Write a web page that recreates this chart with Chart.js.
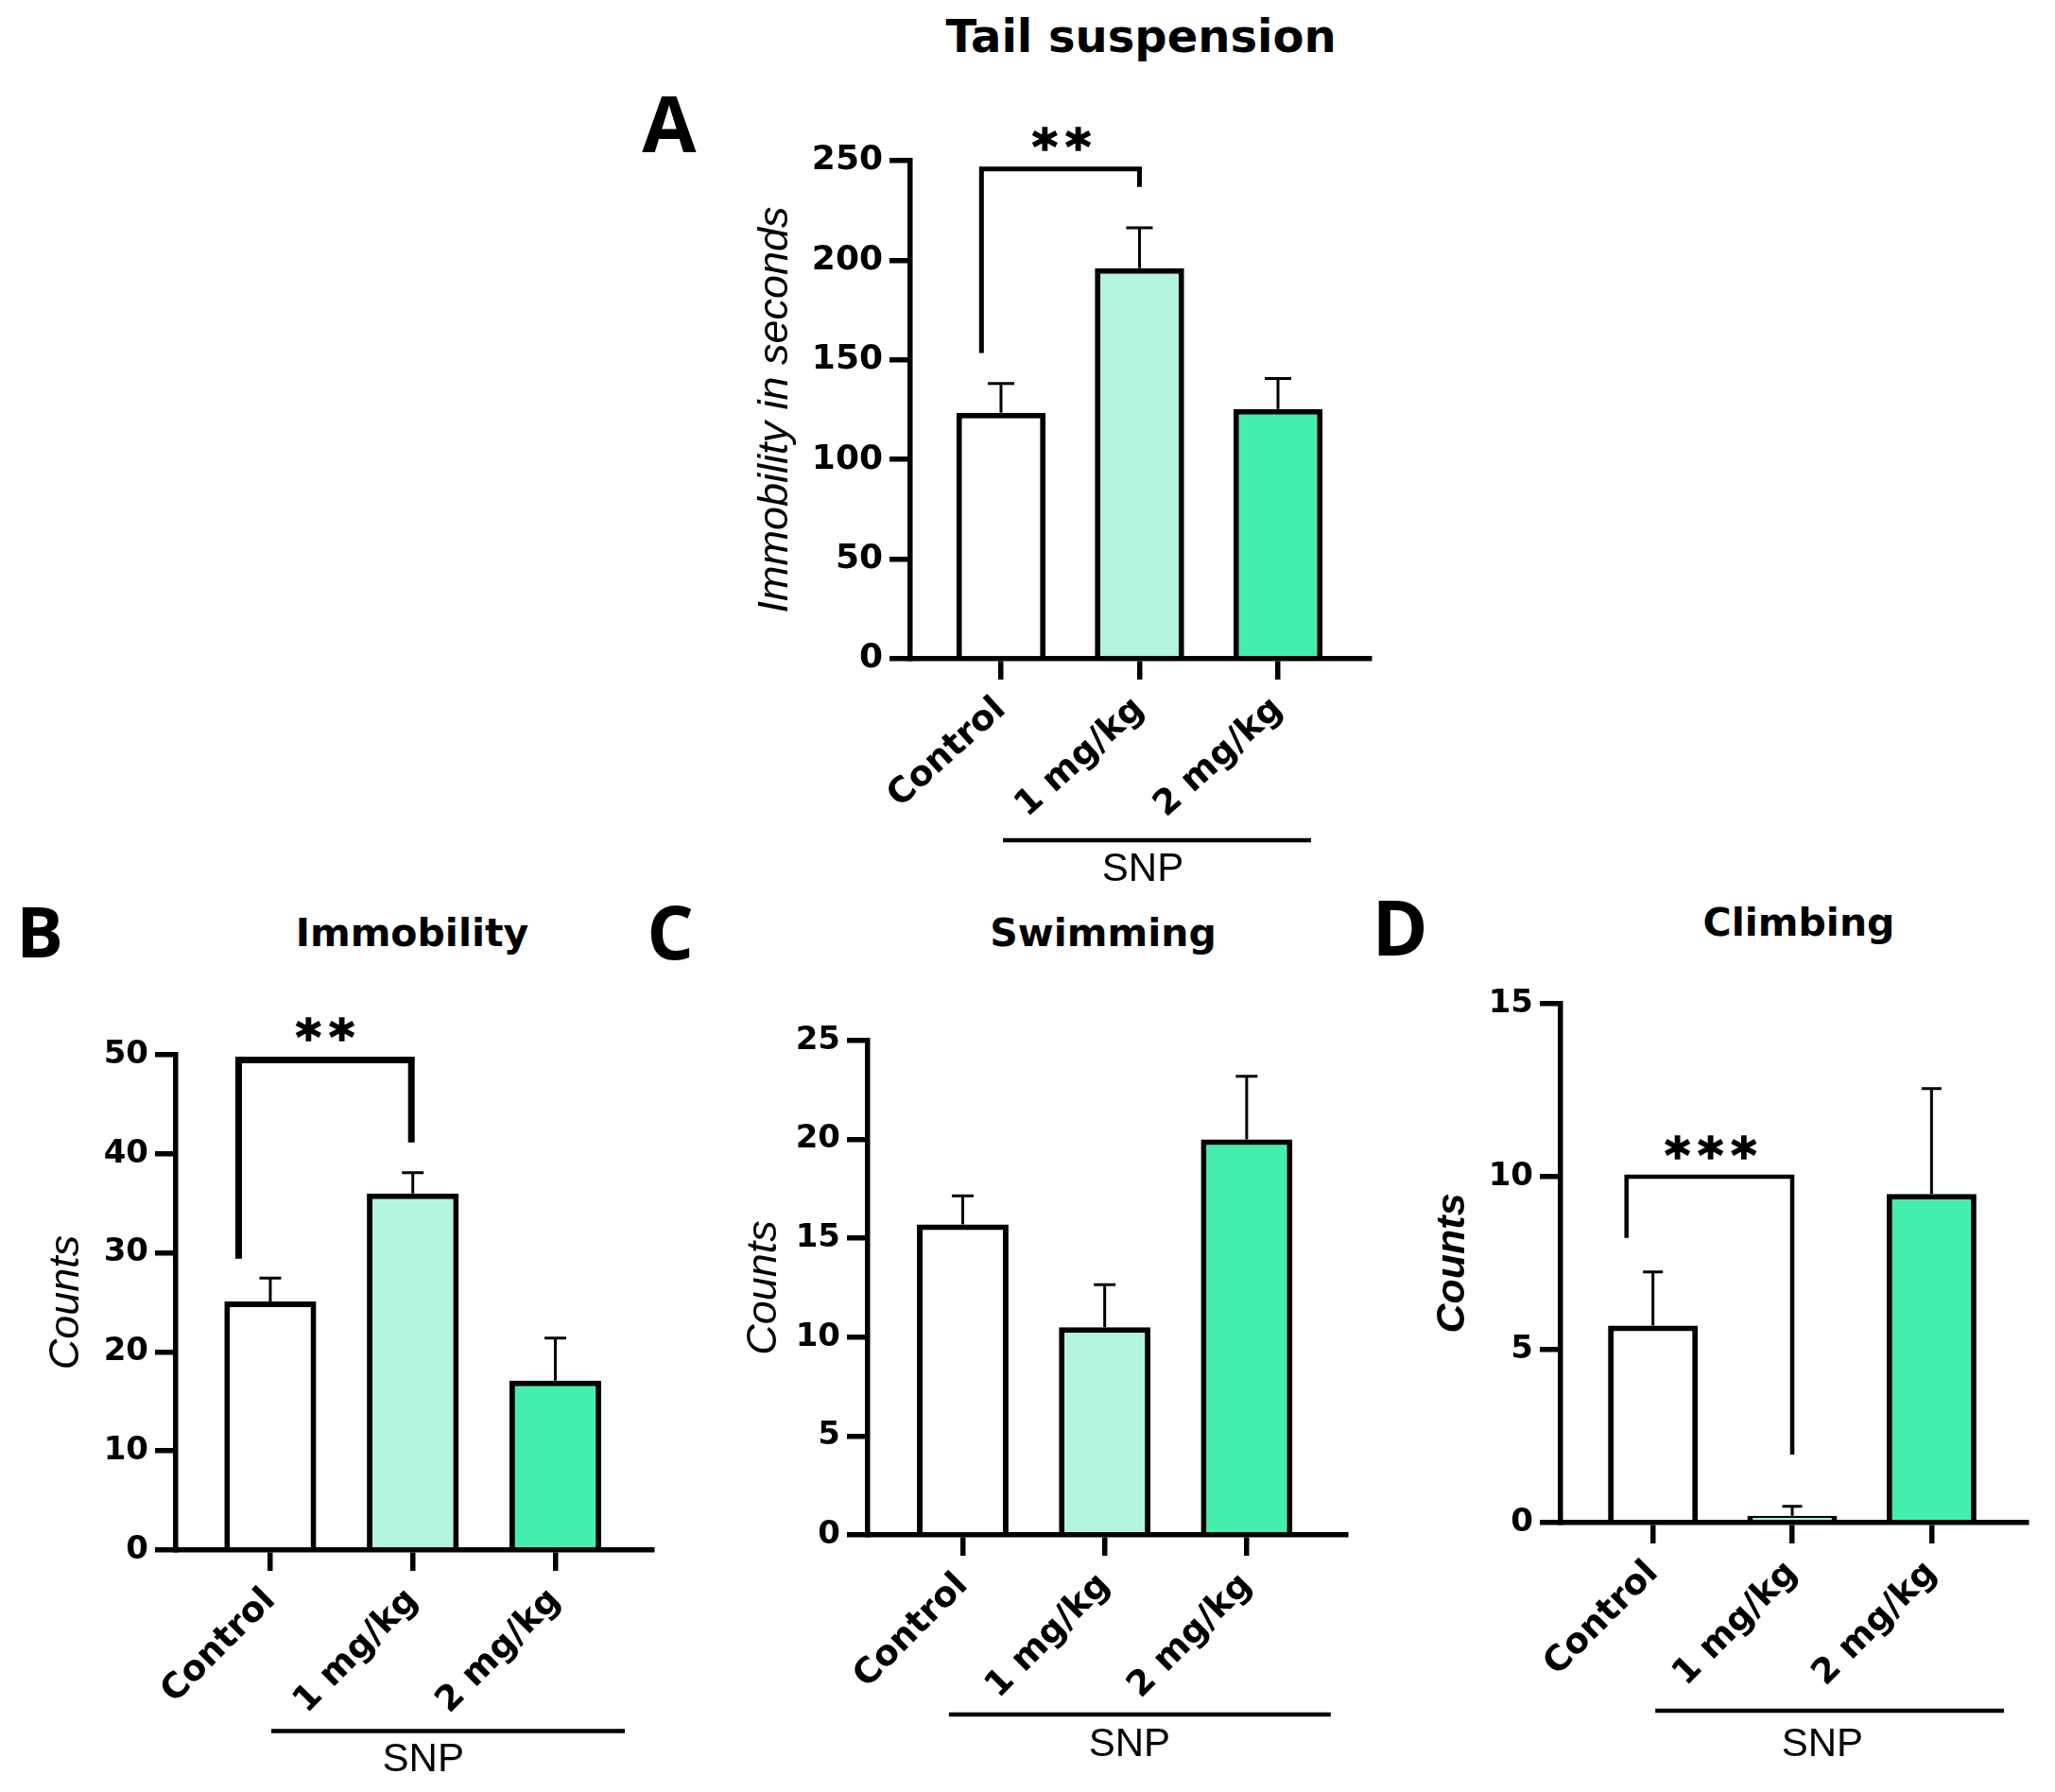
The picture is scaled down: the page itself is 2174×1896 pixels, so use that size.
<!DOCTYPE html>
<html><head><meta charset="utf-8">
<script src="https://cdn.jsdelivr.net/npm/chart.js@4.4.0/dist/chart.umd.min.js"></script>
<style>
html,body{margin:0;padding:0;background:#fff;width:2174px;height:1896px;overflow:hidden;position:relative}
canvas{position:absolute}
.t{position:absolute;white-space:nowrap;transform:translateX(-50%);line-height:1;color:#000}
.title{font-family:"DejaVu Sans",sans-serif;font-weight:bold}
.letter{font-family:"Open Sans",sans-serif;font-weight:bold}
</style></head><body>
<div class="t title" style="left:1207px;top:14px;font-size:48px">Tail suspension</div>
<div class="t title" style="left:436px;top:967px;font-size:41px">Immobility</div>
<div class="t title" style="left:1167px;top:967px;font-size:41px">Swimming</div>
<div class="t title" style="left:1903px;top:956px;font-size:41px">Climbing</div>
<div class="t letter" style="left:708px;top:87px;font-size:83px">A</div>
<div class="t letter" style="left:42px;top:948px;font-size:74px">B</div>
<div class="t letter" style="left:709px;top:946px;font-size:78px">C</div>
<div class="t letter" style="left:1481px;top:940px;font-size:80px">D</div>
<script>
const categories = ['Control', '1 mg/kg', '2 mg/kg'];
const groupLabel = 'SNP';
const barColors = ['#ffffff', '#b3f5dc', '#44efae'];

const tailMeans = [123.4, 196.0, 125.3];
const tailSem = [14.8, 20.3, 15.3];
const tailTicks = [0, 50, 100, 150, 200, 250];

const immobMeans = [25.1, 36.0, 17.1];
const immobSem = [2.35, 2.1, 4.3];
const immobTicks = [0, 10, 20, 30, 40, 50];

const swimMeans = [15.7, 10.5, 20.0];
const swimSem = [1.45, 2.15, 3.2];
const swimTicks = [0, 5, 10, 15, 20, 25];

const climbMeans = [5.7, 0.2, 9.5];
const climbSem = [1.55, 0.27, 3.05];
const climbTicks = [0, 5, 10, 15];

const padL = 175, padR = 30, padT = 70;

const panels = [
  {means: tailMeans, sem: tailSem, ticks: tailTicks, yTitle: 'Immobility in seconds',
   tFont: {family: 'Liberation Sans', style: 'italic', weight: 'normal', size: 45, lineHeight: 1}, titlePad: 9.5,
   axisL: 963, axisR: 1449, yTop: 170, yBot: 697, xMin: -0.655, xMax: 2.662, rot: 42, padB: 260, tickFont: 36,
   sig: {from: -0.141, to: 1, top: 245.9, fromEnd: 153.5, toEnd: 236.8, w: 5, text: '**', sx: 0.437, sy: 262.5},
   snp: {from: 0.014, to: 2.239, lineDy: 192, textX: 1.024, textDy: 223.5}, capW: 28},
  {means: immobMeans, sem: immobSem, ticks: immobTicks, yTitle: 'Counts',
   tFont: {family: 'Liberation Sans', style: 'italic', weight: 'normal', size: 45, lineHeight: 1}, titlePad: 36.5,
   axisL: 186, axisR: 690, yTop: 1116, yBot: 1640, xMin: -0.663, xMax: 2.68, rot: 45, padB: 250, tickFont: 34,
   sig: {from: -0.222, to: 0.99, top: 49.47, fromEnd: 29.42, toEnd: 41.16, w: 7, text: '**', sx: 0.385, sy: 52.9},
   snp: {from: 0.007, to: 2.488, lineDy: 191.6, textX: 1.073, textDy: 222}, capW: 23},
  {means: swimMeans, sem: swimSem, ticks: swimTicks, yTitle: 'Counts',
   tFont: {family: 'Liberation Sans', style: 'italic', weight: 'normal', size: 45, lineHeight: 1}, titlePad: 42.5,
   axisL: 918, axisR: 1424, yTop: 1101, yBot: 1624, xMin: -0.669, xMax: 2.70, rot: 45, padB: 250, tickFont: 34,
   sig: null,
   snp: {from: -0.097, to: 2.592, lineDy: 190, textX: 1.175, textDy: 222}, capW: 23},
  {means: climbMeans, sem: climbSem, ticks: climbTicks, yTitle: 'Counts',
   tFont: {family: 'Liberation Sans', style: 'italic', weight: 'bold', size: 43, lineHeight: 1}, titlePad: 39.5,
   axisL: 1651, axisR: 2144, yTop: 1062, yBot: 1611, xMin: -0.663, xMax: 2.683, rot: 45, padB: 250, tickFont: 34,
   sig: {from: -0.19, to: 1.0, top: 10, fromEnd: 8.23, toEnd: 1.97, w: 4.5, text: '***', sx: 0.414, sy: 10.93},
   snp: {from: 0.017, to: 2.52, lineDy: 199, textX: 1.216, textDy: 235}, capW: 21}
];

const extras = {
  id: 'extras',
  afterDatasetsDraw(chart, args, opts) {
    const p = opts.panel;
    const {ctx} = chart;
    const x = chart.scales.x, y = chart.scales.y;
    ctx.save();
    ctx.strokeStyle = '#000';
    ctx.lineWidth = 3;
    ctx.lineCap = 'butt';
    p.means.forEach((m, i) => {
      const px = x.getPixelForValue(i);
      const y0 = y.getPixelForValue(m);
      const y1 = y.getPixelForValue(m + p.sem[i]);
      ctx.beginPath();
      ctx.moveTo(px, y0); ctx.lineTo(px, y1);
      ctx.moveTo(px - p.capW / 2, y1); ctx.lineTo(px + p.capW / 2, y1);
      ctx.stroke();
    });
    ctx.restore();
  },
  afterDraw(chart, args, opts) {
    const p = opts.panel;
    const {ctx} = chart;
    const x = chart.scales.x, y = chart.scales.y;
    ctx.save();
    ctx.strokeStyle = '#000';
    ctx.fillStyle = '#000';
    if (p.sig) {
      const s = p.sig;
      ctx.lineWidth = s.w;
      ctx.lineJoin = 'miter';
      ctx.beginPath();
      ctx.moveTo(x.getPixelForValue(s.from), y.getPixelForValue(s.fromEnd));
      ctx.lineTo(x.getPixelForValue(s.from), y.getPixelForValue(s.top));
      ctx.lineTo(x.getPixelForValue(s.to), y.getPixelForValue(s.top));
      ctx.lineTo(x.getPixelForValue(s.to), y.getPixelForValue(s.toEnd));
      ctx.stroke();
      const fs = 52, sp = 8;
      ctx.font = 'bold ' + fs + 'px "DejaVu Sans"';
      ctx.letterSpacing = sp + 'px';
      ctx.textAlign = 'center';
      ctx.textBaseline = 'alphabetic';
      ctx.lineWidth = 1.5;
      const tx = x.getPixelForValue(s.sx) + sp / 2, ty = y.getPixelForValue(s.sy) + 0.56 * fs;
      ctx.fillText(s.text, tx, ty);
      ctx.strokeText(s.text, tx, ty);
      ctx.letterSpacing = '0px';
    }
    const bottom = chart.chartArea.bottom;
    ctx.lineWidth = 4.5;
    ctx.beginPath();
    ctx.moveTo(x.getPixelForValue(p.snp.from), bottom + p.snp.lineDy);
    ctx.lineTo(x.getPixelForValue(p.snp.to), bottom + p.snp.lineDy);
    ctx.stroke();
    ctx.font = '42px "Liberation Sans"';
    ctx.textAlign = 'center';
    ctx.textBaseline = 'middle';
    ctx.fillText(groupLabel, x.getPixelForValue(p.snp.textX), bottom + p.snp.textDy);
    ctx.restore();
  }
};

panels.forEach(p => {
  const cv = document.createElement('canvas');
  const w = p.axisR - p.axisL + padL + padR;
  const h = p.yBot - p.yTop + padT + p.padB;
  cv.width = w; cv.height = h;
  cv.style.left = (p.axisL - padL) + 'px';
  cv.style.top = (p.yTop - padT) + 'px';
  cv.style.width = w + 'px'; cv.style.height = h + 'px';
  document.body.appendChild(cv);
  const padB = p.padB;
  new Chart(cv, {
    type: 'bar',
    data: {
      datasets: [{
        data: p.means.map((v, i) => ({x: i, y: v})),
        backgroundColor: barColors,
        borderColor: '#000',
        borderWidth: 6,
        borderSkipped: 'start',
        categoryPercentage: 1,
        barPercentage: 0.645
      }]
    },
    options: {
      responsive: false,
      animation: false,
      devicePixelRatio: 1,
      layout: {padding: {left: 0, right: padR, top: padT, bottom: 0}, autoPadding: false},
      plugins: {legend: {display: false}, tooltip: {enabled: false}, extras: {panel: p}},
      scales: {
        x: {
          type: 'linear', min: p.xMin, max: p.xMax, offset: false,
          afterBuildTicks: s => { s.ticks = categories.map((c, i) => ({value: i})); },
          afterFit: s => { s.height = padB; s.paddingLeft = 0; s.paddingRight = 0; },
          ticks: {autoSkip: false, maxRotation: p.rot, minRotation: p.rot, padding: 10, color: '#000',
                  font: {family: 'DejaVu Sans', weight: 'bold', size: 37},
                  callback: v => categories[v]},
          grid: {display: true, offset: false, drawOnChartArea: false, drawTicks: true, tickLength: 22, lineWidth: 5.5, color: '#000'},
          border: {display: true, color: '#000', width: 5.5}
        },
        y: {
          min: 0, max: p.ticks[p.ticks.length - 1],
          afterBuildTicks: s => { s.ticks = p.ticks.map(v => ({value: v})); },
          afterFit: s => { s.width = padL; s.paddingTop = 0; s.paddingBottom = 0; },
          ticks: {padding: 7, color: '#000', font: {family: 'DejaVu Sans', weight: 'bold', size: p.tickFont}},
          grid: {display: true, drawOnChartArea: false, drawTicks: true, tickLength: 22, lineWidth: 5.5, color: '#000'},
          border: {display: true, color: '#000', width: 5.5},
          title: {display: true, text: p.yTitle, color: '#000', font: p.tFont, padding: {top: p.titlePad, bottom: 0}}
        }
      }
    },
    plugins: [extras]
  });
});
</script>
</body></html>
